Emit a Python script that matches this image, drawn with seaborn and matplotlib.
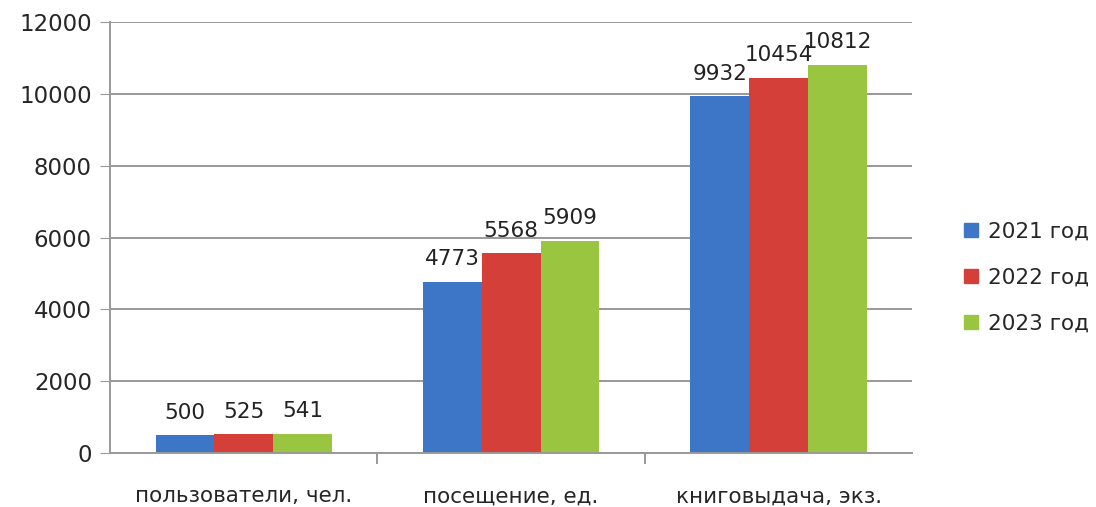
import pandas as pd
import numpy as np
import matplotlib.pyplot as plt
import seaborn as sns

categories = ["пользователи, чел.", "посещение, ед.", "книговыдача, экз."]
years = ["2021 год", "2022 год", "2023 год"]
v2021 = [500, 4773, 9932]
v2022 = [525, 5568, 10454]
v2023 = [541, 5909, 10812]
colors = ["#3d76c6", "#d43f3a", "#99c540"]

rows = []
for yr, vals in zip(years, [v2021, v2022, v2023]):
    for cat, v in zip(categories, vals):
        rows.append({"cat": cat, "year": yr, "value": v})
df = pd.DataFrame(rows)

sns.set_style("white")
plt.rcParams['font.family'] = ['DejaVu Sans']

fig = plt.figure(figsize=(10.96, 5.07), dpi=100)
ax = fig.add_axes([0.1004, 0.1065, 0.732, 0.85])

sns.barplot(data=df, x="cat", y="value", hue="year", palette=colors,
            width=0.66, gap=0, ax=ax, legend=False, saturation=1,
            edgecolor="none")

for cont in ax.containers:
    ax.bar_label(cont, fontsize=15.5, color="#222222", padding=9)

ax.set_ylim(0, 12000)
ax.set_yticks(range(0, 12001, 2000))
ax.set_xlim(-0.5, 2.5)
ax.yaxis.grid(True, color="#999999", linewidth=1.4)
ax.set_axisbelow(True)
for s in ["top", "right"]:
    ax.spines[s].set_visible(False)
ax.spines["left"].set_color("#999999")
ax.spines["bottom"].set_color("#999999")
ax.spines["left"].set_linewidth(1.4)
ax.spines["bottom"].set_linewidth(1.4)
ax.tick_params(axis="y", labelsize=16.5, length=7, color="#999999", left=True, pad=6)
ax.set_xticks([0, 1, 2])
ax.set_xticklabels(categories)
ax.tick_params(axis="x", labelsize=15.5, length=0, pad=24)
ax.set_xticks([0.5, 1.5], minor=True)
ax.tick_params(axis="x", which="minor", length=8, color="#999999", width=1.4, bottom=True)
ax.set_xlabel("")
ax.set_ylabel("")

handles = [plt.Line2D([], [], marker="s", linestyle="none", markersize=10,
                      markerfacecolor=c, markeredgecolor=c) for c in colors]
fig.legend(handles, years, loc="center left", bbox_to_anchor=(0.868, 0.452),
           frameon=False, fontsize=15.5, handletextpad=0.3, labelspacing=1.2,
           handlelength=1.0, borderaxespad=0)

fig.savefig("out.png", dpi=100)
